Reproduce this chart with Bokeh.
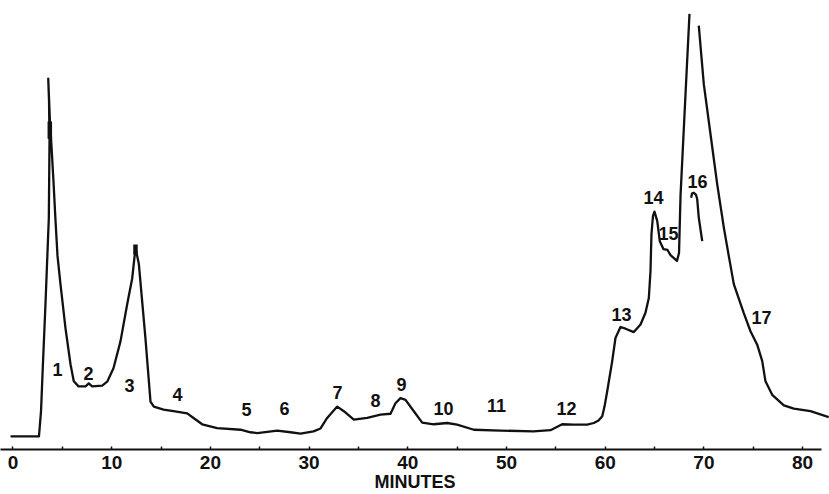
from bokeh.plotting import figure
from bokeh.models import FixedTicker, Range1d
from bokeh.core.properties import value
from bokeh.embed import file_html
from bokeh.resources import INLINE

# ---- data (time in minutes, detector response in % of full scale)
trace_a_minutes = [-0.25, 2.63, 2.84, 2.99, 3.29, 3.63, 3.70, 3.65, 3.57,
                   3.75, 3.87, 4.10, 4.31, 4.51, 4.81, 5.32, 5.83, 6.16, 6.64, 7.35,
                   7.68, 8.02, 9.04, 9.57, 10.18, 10.89, 11.57, 12.08, 12.41, 12.75,
                   13.42, 13.93, 14.27, 15.25, 16.26, 17.65, 18.29, 19.17, 20.69, 23.05,
                   24.06, 24.74, 26.77, 28.12, 29.13, 30.45, 31.16, 31.83, 32.85, 33.52,
                   34.53, 35.89, 37.23, 38.25, 38.75, 39.26, 39.77, 40.61, 41.46, 42.63,
                   43.99, 45.00, 46.69, 49.39, 52.74, 54.46, 55.64, 56.82, 58.18, 58.84,
                   59.32, 59.70, 59.93, 60.20, 60.71, 61.04, 61.55, 62.06, 62.90, 63.58,
                   64.08, 64.42, 64.59, 64.64, 64.69, 64.84, 64.99, 65.27, 65.53, 65.91,
                   66.31, 66.62, 67.27, 67.48, 67.63, 67.83, 68.29, 68.54]
trace_a_signal = [0.0, 0.0, 6.0, 14.8, 31.4, 51.9, 70.2, 79.8, 85.0,
                  74.5, 70.2, 60.7, 51.2, 42.9, 36.2, 25.7, 17.1, 13.1, 11.9, 11.9,
                  12.6, 11.9, 12.1, 13.1, 16.2, 22.6, 31.4, 37.6, 44.8, 41.0,
                  23.3, 8.3, 7.1, 6.4, 6.0, 5.5, 4.4, 2.9, 2.0, 1.6,
                  1.0, 0.8, 1.4, 1.0, 0.7, 1.2, 1.9, 4.4, 7.1, 6.0,
                  4.0, 4.4, 5.2, 5.4, 7.9, 9.1, 8.7, 6.0, 3.3, 2.9,
                  3.2, 2.8, 1.6, 1.4, 1.2, 1.5, 2.9, 2.8, 2.8, 3.2,
                  3.8, 4.8, 7.1, 10.7, 17.9, 23.4, 26.0, 25.6, 24.8, 26.6,
                  29.4, 32.9, 39.3, 44.0, 48.1, 52.4, 53.4, 51.2, 46.4, 44.5,
                  44.3, 43.1, 41.7, 43.6, 57.1, 66.7, 88.6, 100.4]

trace_b_minutes = [69.48, 69.99, 70.67, 71.35, 72.02, 72.52, 73.03, 74.04, 74.72,
                   75.40, 75.91, 76.24, 76.92, 78.10, 79.11, 80.80, 82.65]
trace_b_signal = [97.6, 83.7, 71.8, 59.9, 49.6, 42.9, 36.2, 29.3, 25.0,
                  21.8, 17.9, 13.1, 9.9, 7.4, 6.6, 6.0, 4.6]

peak16_minutes = [68.71, 68.79, 68.98, 69.20, 69.32, 69.48, 69.83]
peak16_signal = [56.7, 57.7, 57.9, 57.4, 56.4, 52.0, 46.4]

pen_mark_minutes = [3.73, 12.41]
pen_mark_low = [70.7, 43.3]
pen_mark_high = [74.8, 45.6]

peak_labels = ["1", "2", "3", "4", "5", "6", "7", "8", "9", "10",
               "11", "12", "13", "14", "15", "16", "17"]
peak_label_minutes = [4.51, 7.65, 11.80, 16.67, 23.66, 27.51, 32.88, 36.73, 39.36, 43.62,
                      48.99, 56.08, 61.65, 64.89, 66.41, 69.35, 75.84]
peak_label_signal = [16.0, 15.0, 12.1, 10.0, 6.4, 6.7, 10.5, 8.6, 12.4, 6.7,
                     7.4, 6.7, 29.0, 56.7, 48.1, 60.5, 28.3]

major_ticks = [0, 10, 20, 30, 40, 50, 60, 70, 80]
minor_ticks = [5, 15, 25, 35, 45, 55, 65, 75]
x_title = "MINUTES"

FONT = "'Liberation Sans Narrow', 'Liberation Sans', Arial, sans-serif"
INK = "#111111"

x_start, x_end = -1.266, 82.725
y_start, y_end = -3.095, 103.571
p = figure(width=829, height=494, output_backend="svg", toolbar_location=None,
           x_range=Range1d(x_start, x_end), y_range=Range1d(y_start, y_end),
           y_axis_location=None,
           min_border_left=0, min_border_right=0, min_border_top=0, min_border_bottom=42)
p.outline_line_color = None
p.grid.visible = False
p.background_fill_color = "white"
p.border_fill_color = "white"

p.line(trace_a_minutes, trace_a_signal, line_color=INK, line_width=2.3, line_join="round")
p.line(trace_b_minutes, trace_b_signal, line_color=INK, line_width=2.3, line_join="round")
p.line(peak16_minutes, peak16_signal, line_color=INK, line_width=2.3, line_join="round")
p.segment(x0=pen_mark_minutes, y0=pen_mark_low, x1=pen_mark_minutes, y1=pen_mark_high,
          line_color=INK, line_width=4.5)

p.text(x=peak_label_minutes, y=peak_label_signal, text=peak_labels,
       text_font=value(FONT), text_font_style="bold", text_font_size="18px",
       text_align="center", text_baseline="middle", text_color=INK)

ax = p.xaxis[0]
ax.ticker = FixedTicker(ticks=major_ticks, minor_ticks=minor_ticks)
ax.bounds = (x_start, 81.9)
ax.axis_line_color = INK
ax.axis_line_width = 2
ax.major_tick_line_color = INK
ax.minor_tick_line_color = INK
ax.major_tick_line_width = 1.5
ax.minor_tick_line_width = 1.5
ax.major_tick_in = 3
ax.major_tick_out = 0
ax.minor_tick_in = 3
ax.minor_tick_out = 0
ax.major_label_standoff = 6
ax.major_label_text_font = FONT
ax.major_label_text_font_style = "bold"
ax.major_label_text_font_size = "19px"
ax.major_label_text_color = INK
ax.axis_label = x_title
ax.axis_label_standoff = 0
ax.axis_label_text_font = FONT
ax.axis_label_text_font_style = "bold"
ax.axis_label_text_font_size = "18px"
ax.axis_label_text_color = INK

open("out.html", "w").write(file_html(p, INLINE))
